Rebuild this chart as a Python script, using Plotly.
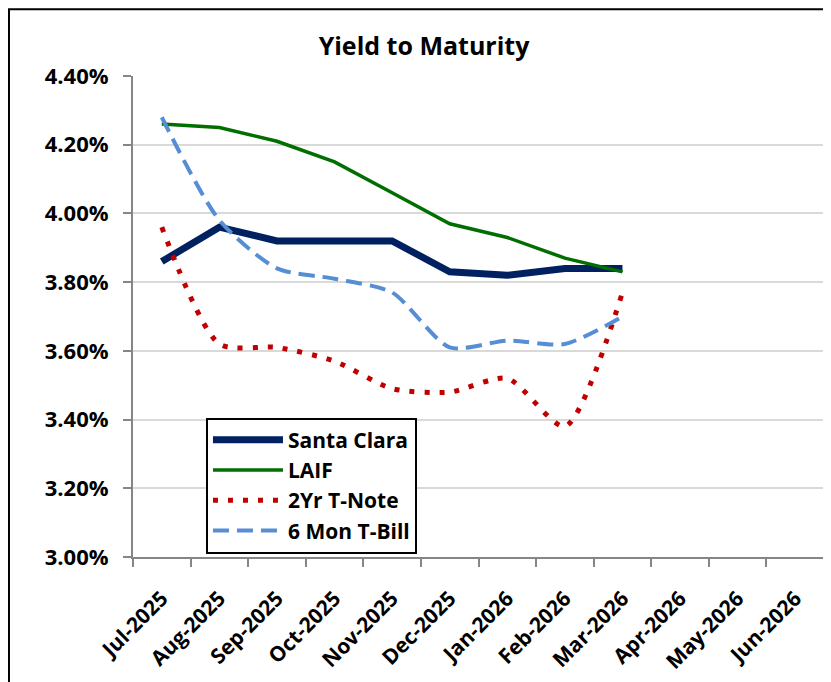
import plotly.graph_objects as go

FONT = "Open Sans"
GRID_COLOR = "#d9d9d9"
AXIS_COLOR = "#868686"

months = ['Jul-2025', 'Aug-2025', 'Sep-2025', 'Oct-2025', 'Nov-2025', 'Dec-2025',
          'Jan-2026', 'Feb-2026', 'Mar-2026', 'Apr-2026', 'May-2026', 'Jun-2026']

# yields in percent, only Jul-2025 .. Mar-2026 reported so far
santa_clara = [3.86, 3.96, 3.92, 3.92, 3.92, 3.83, 3.82, 3.84, 3.84]
laif = [4.26, 4.25, 4.21, 4.15, 4.06, 3.97, 3.93, 3.87, 3.83]
two_yr_note = [3.96, 3.62, 3.61, 3.57, 3.49, 3.48, 3.52, 3.38, 3.77]
six_mon_bill = [4.28, 3.98, 3.84, 3.81, 3.77, 3.61, 3.63, 3.62, 3.70]

y_ticks = [3.0, 3.2, 3.4, 3.6, 3.8, 4.0, 4.2, 4.4]
y_tick_labels = ['3.00%', '3.20%', '3.40%', '3.60%', '3.80%', '4.00%', '4.20%', '4.40%']

fig = go.Figure()


def add_series(values, name, color, width, dash, shape):
    fig.add_trace(
        go.Scatter(
            x=months[:len(values)],
            y=values,
            mode='lines',
            name=name,
            line_color=color,
            line_width=width,
            line_dash=dash,
            line_shape=shape,
            line_smoothing=0.7 if shape == 'spline' else None,
        )
    )


add_series(santa_clara, 'Santa Clara', '#002060', 7, 'solid', 'linear')
add_series(laif, 'LAIF', '#006E00', 3.5, 'solid', 'linear')
add_series(two_yr_note, '2Yr T-Note', '#C00000', 5, '5px,10px', 'spline')
add_series(six_mon_bill, '6 Mon T-Bill', '#558ED5', 4, '16px,8px', 'spline')

# the page body keeps an 8px margin, so the figure is 8px smaller each way
fig.update_layout(
    width=823,
    height=674,
    margin=dict(l=125, r=7, t=68, b=125),
    plot_bgcolor='white',
    paper_bgcolor='white',
    font=dict(family=FONT, color='black'),
    title=dict(text='Yield to Maturity', x=0.5055, xanchor='center',
               y=0.9436, yanchor='middle',
               font=dict(size=25, weight='bold')),
    showlegend=True,
    legend=dict(
        x=0.1056, y=0.29, xanchor='left', yanchor='top',
        bgcolor='white', bordercolor='black', borderwidth=2,
        font=dict(size=21, family=FONT, weight='bold'),
        tracegroupgap=0, itemwidth=70,
    ),
    xaxis=dict(
        type='category',
        categoryorder='array',
        categoryarray=months,
        range=[-0.5, len(months) - 0.5],
        automargin=False,
        tickangle=-45,
        ticks='outside',
        tickson='boundaries',
        ticklen=8,
        tickcolor=AXIS_COLOR,
        tickwidth=2,
        showline=True,
        linecolor=AXIS_COLOR,
        linewidth=2,
        showgrid=False,
        ticklabelstandoff=19,
        tickfont=dict(size=21, weight='bold'),
    ),
    yaxis=dict(
        range=[3.0, 4.4],
        automargin=False,
        tickvals=y_ticks,
        ticktext=y_tick_labels,
        ticks='outside',
        ticklen=8,
        tickcolor=AXIS_COLOR,
        tickwidth=2,
        showline=True,
        linecolor=AXIS_COLOR,
        linewidth=2,
        showgrid=True,
        gridcolor=GRID_COLOR,
        gridwidth=1.5,
        zeroline=False,
        ticklabelstandoff=10,
        tickfont=dict(size=22, weight='bold'),
    ),
)

# black frame round the whole chart, running off the right and bottom edges
fig.add_shape(type='rect', xref='paper', yref='paper',
              x0=-0.1795, x1=1.05, y0=-0.3, y1=1.139,
              line=dict(color='black', width=2))

fig.write_html("out.html")
